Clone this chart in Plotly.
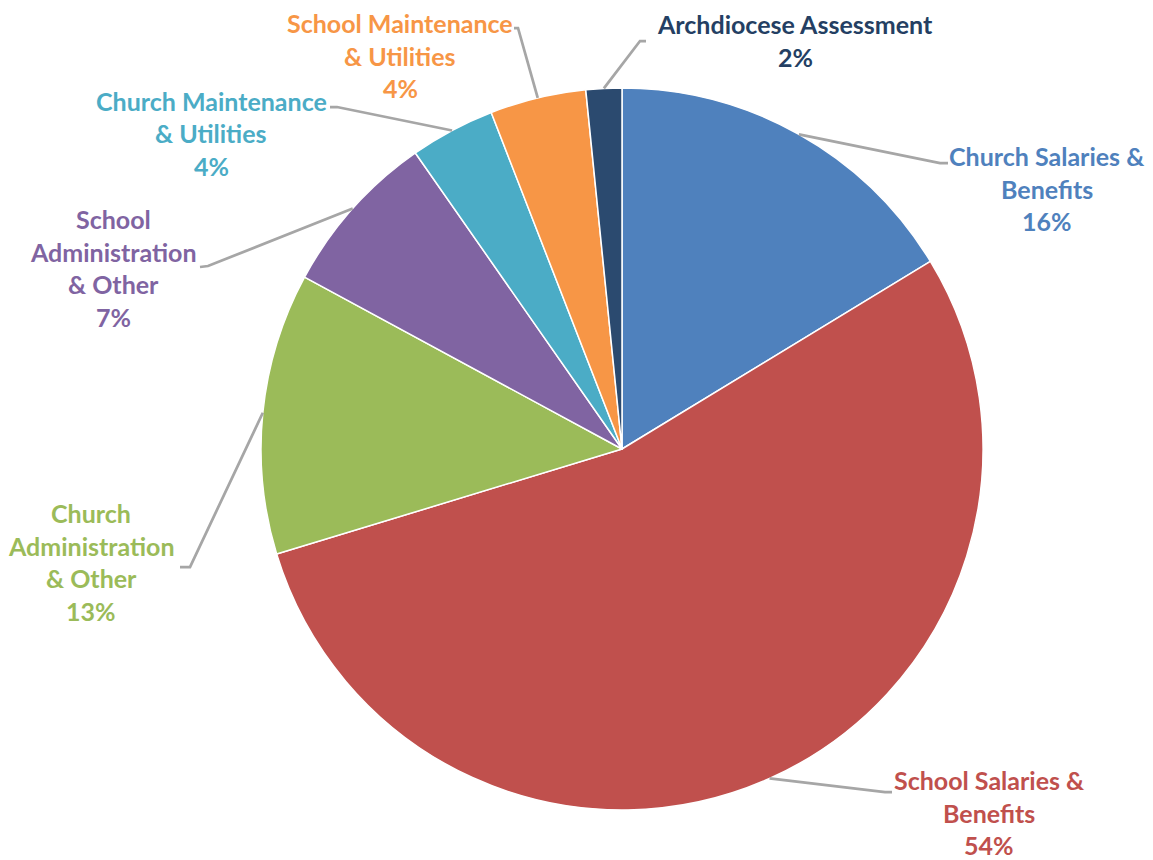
import math
import plotly.graph_objects as go

# ---- data ----
categories = [
    "Church Salaries & Benefits",
    "School Salaries & Benefits",
    "Church Administration & Other",
    "School Administration & Other",
    "Church Maintenance & Utilities",
    "School Maintenance & Utilities",
    "Archdiocese Assessment",
]
values = [16.3, 54.0, 12.6, 7.4, 3.8, 4.3, 1.6]
label_lines = [
    ["Church Salaries &", "Benefits"],
    ["School Salaries &", "Benefits"],
    ["Church", "Administration", "& Other"],
    ["School", "Administration", "& Other"],
    ["Church Maintenance", "& Utilities"],
    ["School Maintenance", "& Utilities"],
    ["Archdiocese Assessment"],
]

# ---- style / layout ----
colors = ["#4F81BD", "#C0504D", "#9BBB59", "#8064A2", "#4BACC6", "#F79646", "#2B4A6F"]
text_colors = ["#4F81BD", "#C0504D", "#9BBB59", "#8064A2", "#4BACC6", "#F79646", "#243F63"]
PAGE_OFF = 8  # default page body margin
W, H = 1153 - PAGE_OFF, 860 - PAGE_OFF
CX, CY, R = 622, 449, 361   # in screen px
LINE_GAP = 32.5
# label block: (center x, y of first line) in screen px
label_pos = [(1047, 156), (989, 780), (91, 513), (113, 219), (211, 101), (400, 23), (795, 24)]
# leader line elbow and end points in screen px
leader_pts = [
    ((940, 163), (948, 163)),
    ((885, 792), (892, 792)),
    ((190, 567), (180, 567)),
    ((208, 266), (200, 267)),
    ((337, 107), (330, 107)),
    ((518, 28), (514, 28)),
    ((640, 41), (646, 41)),
]
FONT = "Lato"
FSIZE = 25


def px(x, y):
    return (x - PAGE_OFF) / W, 1 - (y - PAGE_OFF) / H


dx0, dy1 = px(CX - R, CY - R)
dx1, dy0 = px(CX + R, CY + R)

fig = go.Figure(
    go.Pie(
        labels=categories,
        values=values,
        sort=False,
        direction="clockwise",
        rotation=0,
        marker=dict(colors=colors, line=dict(color="white", width=1.5)),
        textinfo="none",
        hoverinfo="label+percent",
        showlegend=False,
        domain=dict(x=[dx0, dx1], y=[dy0, dy1]),
    )
)

total = sum(values)
annotations = []
shapes = []
cum = 0.0
for i, v in enumerate(values):
    mid = (cum + v / 2) / total * 2 * math.pi
    cum += v
    sx = CX + R * math.sin(mid)
    sy = CY - R * math.cos(mid)
    (ex, ey), (tx, ty) = leader_pts[i]
    p0, p1, p2 = px(sx, sy), px(ex, ey), px(tx, ty)
    shapes.append(dict(
        type="path", xref="paper", yref="paper",
        path=f"M {p0[0]} {p0[1]} L {p1[0]} {p1[1]} L {p2[0]} {p2[1]}",
        line=dict(color="#A6A6A6", width=2.75),
    ))
    pct = f"{round(v / total * 100)}%"
    lines = label_lines[i] + [pct]
    lx, ly = label_pos[i]
    for j, t in enumerate(lines):
        ax_, ay_ = px(lx, ly + j * LINE_GAP)
        annotations.append(dict(
            x=ax_, y=ay_, xref="paper", yref="paper", text=t, showarrow=False,
            xanchor="center", yanchor="middle",
            font=dict(family=FONT, size=FSIZE, color=text_colors[i], weight="bold"),
        ))

fig.update_layout(
    width=W, height=H,
    margin=dict(l=0, r=0, t=0, b=0),
    paper_bgcolor="white", plot_bgcolor="white",
    annotations=annotations, shapes=shapes,
)
fig.write_html("out.html")
